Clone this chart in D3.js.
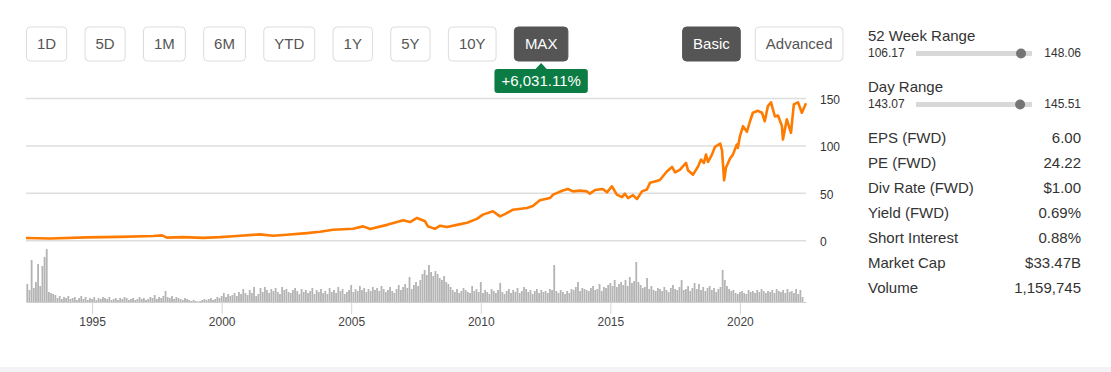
<!DOCTYPE html>
<html>
<head>
<meta charset="utf-8">
<script src="https://cdn.jsdelivr.net/npm/d3@7"></script>
<style>
  body { margin: 0; background: #fff; }
  svg text { font-family: "Liberation Sans", Arial, Helvetica, sans-serif; }
</style>
</head>
<body>
<svg id="chart"></svg>
<script>
// ---- data ----
const ranges = ['1D', '5D', '1M', '6M', 'YTD', '1Y', '5Y', '10Y', 'MAX'];
const activeRange = 'MAX';
const modes = ['Basic', 'Advanced'];
const activeMode = 'Basic';
const changeLabel = '+6,031.11%';

const yTicks = [0, 50, 100, 150];
const xTicks = [1995, 2000, 2005, 2010, 2015, 2020];

// price readings (decimal year, close)
const priceYears = [
  1992.45, 1993.38, 1994.81, 1996.08, 1997.35, 1997.70, 1997.89, 1998.51, 1999.28, 1999.94,
  2000.59, 2001.48, 2001.98, 2002.52, 2003.29, 2003.80, 2004.30, 2005.07, 2005.46, 2005.73,
  2006.38, 2006.77, 2007.00, 2007.27, 2007.54, 2007.85, 2007.96, 2008.23, 2008.43, 2008.70,
  2009.08, 2009.47, 2009.85, 2010.08, 2010.47, 2010.74, 2010.93, 2011.24, 2011.78, 2012.01,
  2012.28, 2012.67, 2012.79, 2013.17, 2013.36, 2013.56, 2013.83, 2014.10, 2014.21, 2014.41,
  2014.71, 2014.87, 2015.06, 2015.25, 2015.45, 2015.56, 2015.68, 2015.87, 2016.03, 2016.22,
  2016.41, 2016.53, 2016.72, 2016.91, 2017.18, 2017.38, 2017.50, 2017.69, 2017.92, 2018.00,
  2018.19, 2018.38, 2018.50, 2018.61, 2018.69, 2018.77, 2018.92, 2019.04, 2019.24, 2019.31,
  2019.39, 2019.46, 2019.62, 2019.73, 2019.88, 2019.92, 2020.00, 2020.12, 2020.27, 2020.39,
  2020.50, 2020.70, 2020.85, 2020.96, 2021.08, 2021.20, 2021.35, 2021.47, 2021.62, 2021.66,
  2021.81, 2021.97, 2022.08, 2022.24, 2022.39, 2022.55
];
const priceValues = [
  2.8, 2.3, 3.5, 4.0, 5.0, 5.6, 3.2, 3.8, 3.0, 3.8,
  5.0, 6.7, 5.3, 6.3, 8.0, 9.5, 11.6, 12.6, 15.1, 12.3,
  16.7, 19.7, 21.5, 19.7, 24.0, 20.5, 15.1, 12.6, 15.8, 14.5,
  16.7, 19.0, 23.0, 27.5, 31.0, 25.7, 28.0, 32.7, 34.5, 36.7,
  42.6, 45.0, 48.6, 53.0, 54.5, 52.0, 52.8, 52.0, 49.6, 53.5,
  54.6, 51.0, 57.4, 48.6, 46.0, 49.6, 45.0, 48.0, 44.0, 52.0,
  54.0, 61.0, 62.5, 64.0, 73.0, 77.8, 72.0, 75.0, 82.0, 74.0,
  69.7, 78.0, 85.6, 82.0, 90.8, 83.0, 90.8, 99.0, 102.5, 95.0,
  63.7, 77.0, 86.8, 90.8, 101.4, 98.0, 110.0, 120.8, 115.0, 126.0,
  135.0, 137.0, 135.0, 126.0, 142.0, 146.0, 131.0, 132.0, 121.0, 106.7,
  128.0, 113.8, 143.7, 146.0, 135.0, 145.0
];

// monthly volume readings starting Jul 1992
const volumeStart = 1992.5;
const volume = [
  18, 12, 42, 14, 20, 38,
  16, 36, 45, 53, 10, 9, 8, 7, 4, 6, 3, 5,
  4, 6, 3, 4, 5, 2, 4, 6, 3, 5, 2, 4,
  3, 5, 2, 4, 3, 5, 4, 3, 5, 2, 3, 4,
  2, 4, 3, 5, 4, 2, 3, 4, 2, 3, 5, 3,
  4, 2, 3, 5, 4, 7, 3, 5, 4, 6, 11, 5,
  4, 6, 3, 5, 4, 3, 2, 4, 3, 2, 1, 2,
  1, 0.5, 1, 2, 3, 2, 3, 4, 2, 3, 5, 4,
  6, 9, 5, 8, 6, 7, 9, 6, 10, 8, 13, 9,
  7, 12, 9, 15, 6, 8, 14, 10, 15, 12, 9, 13,
  11, 14, 10, 8, 15, 12, 13, 10, 9, 12, 14, 11,
  8, 13, 10, 12, 9, 11, 14, 8, 12, 10, 13, 9,
  11, 8, 14, 10, 12, 9, 15, 11, 13, 8, 10, 12,
  17, 10, 13, 11, 16, 12, 14, 10, 13, 11, 15, 12,
  14, 11, 16, 13, 10, 12, 15, 11, 9, 13, 17, 12,
  15, 18, 14, 25, 13, 17, 20, 16, 22, 28, 32, 27,
  37, 30, 26, 31, 28, 24, 22, 26, 20, 18, 15, 12,
  10, 13, 9, 11, 14, 12, 10, 9, 16, 11, 13, 10,
  20, 9, 12, 10, 8, 13, 11, 9, 12, 19, 10, 8,
  11, 13, 9, 12, 10, 14, 9, 11, 15, 13, 10, 12,
  8, 11, 13, 9, 12, 10, 11, 9, 13, 12, 37, 11,
  9, 12, 10, 8, 11, 9, 13, 12, 15, 20, 11, 14,
  13, 12, 11, 14, 16, 12, 13, 18, 11, 15, 14, 17,
  19, 16, 22, 15, 18, 20, 17, 22, 16, 25, 19, 21,
  40, 20, 17, 14, 15, 24, 13, 16, 12, 11, 14, 13,
  11, 15, 12, 10, 14, 17, 13, 12, 15, 22, 12, 13,
  16, 11, 14, 19, 13, 18, 12, 15, 11, 14, 16, 12,
  14, 10, 13, 15, 32, 22, 16, 13, 11, 12, 9, 8,
  10, 11, 9, 8, 12, 10, 11, 9, 12, 10, 13, 11,
  9, 11, 10, 12, 9, 13, 11, 10, 12, 9, 13, 10,
  11, 9, 13, 8, 12, 5
];

const rangeLabels = ['52 Week Range', 'Day Range'];
const rangeLow = [106.17, 143.07];
const rangeHigh = [148.06, 145.51];
const rangeCurrent = [144.1, 145.26];

const statLabels = ['EPS (FWD)', 'PE (FWD)', 'Div Rate (FWD)', 'Yield (FWD)', 'Short Interest', 'Market Cap', 'Volume'];
const statValues = ['6.00', '24.22', '$1.00', '0.69%', '0.88%', '$33.47B', '1,159,745'];

// ---- drawing ----
const W = 1111, H = 372;
const svg = d3.select('#chart').attr('width', W).attr('height', H);

svg.append('rect').attr('x', 0).attr('y', 367).attr('width', W).attr('height', H - 367).attr('fill', '#f3f3f7');

// range buttons
function button(label, active) {
  const g = svg.append('g');
  const r = g.append('rect')
      .attr('y', 27).attr('height', 34).attr('rx', 4)
      .attr('fill', active ? '#555555' : '#fff')
      .attr('stroke', active ? '#555555' : '#dcdcdc');
  const t = g.append('text')
      .attr('y', 44).attr('dy', '0.35em')
      .attr('text-anchor', 'middle')
      .attr('font-size', 15)
      .attr('fill', active ? '#fff' : '#555')
      .text(label);
  const w = t.node().getComputedTextLength() + 21;
  return {g, r, t, w};
}

let bx = 26.5;
let maxCenter = 0;
ranges.forEach(d => {
  const b = button(d, d === activeRange);
  b.r.attr('x', bx).attr('width', b.w);
  b.t.attr('x', bx + b.w / 2);
  if (d === activeRange) maxCenter = bx + b.w / 2;
  bx += b.w + 18.3;
});

let mx = 843;
modes.slice().reverse().forEach(d => {
  const b = button(d, d === activeMode);
  mx -= b.w;
  b.r.attr('x', mx).attr('width', b.w);
  b.t.attr('x', mx + b.w / 2);
  mx -= 15;
});

// change badge
const badge = svg.append('g');
const badgeText = badge.append('text')
    .attr('x', maxCenter).attr('y', 81).attr('dy', '0.35em')
    .attr('text-anchor', 'middle').attr('font-size', 15).attr('fill', '#fff')
    .text(changeLabel);
const bw = badgeText.node().getComputedTextLength() + 14;
badge.insert('rect', 'text')
    .attr('x', maxCenter - bw / 2).attr('y', 69).attr('width', bw).attr('height', 24)
    .attr('rx', 3).attr('fill', '#0b7c43');
badge.insert('path', 'text')
    .attr('d', `M${maxCenter - 6},69.5 L${maxCenter},63 L${maxCenter + 6},69.5 Z`)
    .attr('fill', '#0b7c43');

// scales
const x = d3.scaleLinear().domain([1992.45, 2022.55]).range([26, 806]);
const y = d3.scaleLinear().domain([0, 150]).range([240.7, 98.5]);
const vy = d3.scaleLinear().domain([0, 60]).range([302, 242]);

// grid + y labels
svg.append('g').selectAll('line')
  .data(yTicks).join('line')
    .attr('x1', 26).attr('x2', 806)
    .attr('y1', d => y(d)).attr('y2', d => y(d))
    .attr('stroke', '#dedede').attr('stroke-width', 1.5);

svg.append('g').selectAll('text')
  .data(yTicks).join('text')
    .attr('x', 820).attr('y', d => y(d)).attr('dy', '0.45em')
    .attr('font-size', 12).attr('fill', '#333')
    .text(d => d);

// price line
const priceData = priceYears.map((d, i) => [d, priceValues[i]]);
svg.append('path')
    .datum(priceData)
    .attr('fill', 'none')
    .attr('stroke', '#ff7b00')
    .attr('stroke-width', 2.6)
    .attr('stroke-linejoin', 'round')
    .attr('d', d3.line().x(d => x(d[0])).y(d => y(d[1])));

// volume bars
svg.append('g').selectAll('rect')
  .data(volume).join('rect')
    .attr('x', (d, i) => x(volumeStart + i / 12) - 0.9)
    .attr('width', 1.8)
    .attr('y', d => vy(d))
    .attr('height', d => vy(0) - vy(d))
    .attr('fill', '#b4b4b4');

// x axis
const xAxis = svg.append('g')
    .attr('transform', 'translate(0,302)')
    .call(d3.axisBottom(x).tickValues(xTicks).tickFormat(d3.format('d')).tickSize(12).tickSizeOuter(0));
xAxis.select('.domain').attr('stroke', '#cfcfcf');
xAxis.selectAll('.tick line').attr('stroke', '#d5d5d5');
xAxis.selectAll('.tick text')
    .attr('font-size', 12).attr('fill', '#444')
    .style('font-family', '"Liberation Sans", Arial, sans-serif');

// right panel: ranges
const barX0 = 916, barX1 = 1032;
rangeLabels.forEach((lab, i) => {
  const top = i * 51;
  svg.append('text').attr('x', 868).attr('y', 41 + top)
      .attr('font-size', 15).attr('fill', '#333').text(lab);
  svg.append('text').attr('x', 868).attr('y', 56.5 + top)
      .attr('font-size', 12).attr('fill', '#333').text(rangeLow[i].toFixed(2));
  svg.append('text').attr('x', 1081).attr('y', 56.5 + top).attr('text-anchor', 'end')
      .attr('font-size', 12).attr('fill', '#333').text(rangeHigh[i].toFixed(2));
  const s = d3.scaleLinear().domain([rangeLow[i], rangeHigh[i]]).range([barX0, barX1]);
  svg.append('rect').attr('x', barX0).attr('y', 51 + top).attr('width', barX1 - barX0).attr('height', 5)
      .attr('fill', '#d8d8d8');
  svg.append('circle').attr('cx', s(rangeCurrent[i])).attr('cy', 53.5 + top).attr('r', 5)
      .attr('fill', '#757575');
});

// right panel: stats
statLabels.forEach((lab, i) => {
  svg.append('text').attr('x', 868).attr('y', 143.3 + i * 25)
      .attr('font-size', 15).attr('fill', '#333').text(lab);
  svg.append('text').attr('x', 1081).attr('y', 143.3 + i * 25).attr('text-anchor', 'end')
      .attr('font-size', 15).attr('fill', '#333').text(statValues[i]);
});
</script>
</body>
</html>
